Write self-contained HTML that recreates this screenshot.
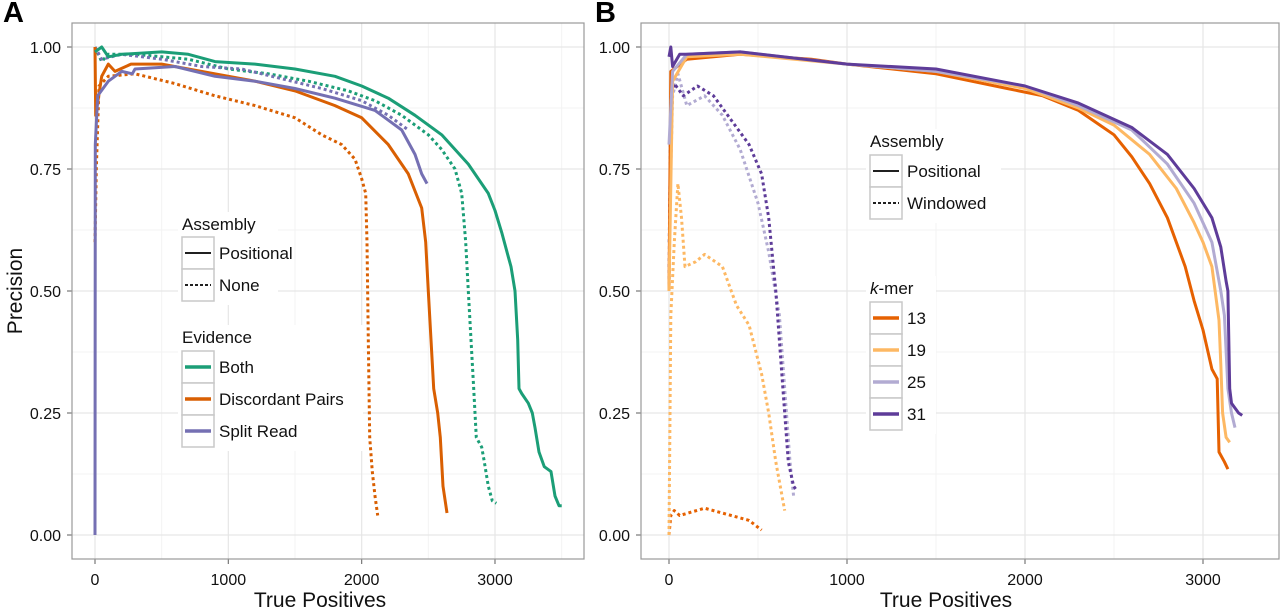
<!DOCTYPE html>
<html><head><meta charset="utf-8"><style>
html,body{margin:0;padding:0;background:#fff;}
svg{display:block;font-family:"Liberation Sans",Arial,sans-serif;}
</style></head><body>
<svg id="fig" width="1280" height="610" viewBox="0 0 1280 610" xmlns="http://www.w3.org/2000/svg"></svg>
<script>
// ---------- Data ----------
const aBothPosX=[0,50,100,200,500,700,900,1200,1500,1800,2000,2200,2400,2600,2800,2950,3000,3050,3100,3120,3150,3170,3180,3200,3250,3280,3300,3330,3370,3420,3450,3480,3500];
const aBothPosY=[0.99,1.0,0.98,0.985,0.99,0.985,0.97,0.965,0.955,0.94,0.92,0.895,0.86,0.82,0.76,0.7,0.665,0.62,0.57,0.55,0.5,0.4,0.3,0.29,0.27,0.25,0.22,0.17,0.14,0.13,0.08,0.06,0.06];
const aBothNoneX=[0,50,100,300,700,1000,1300,1600,1900,2100,2300,2500,2600,2700,2750,2780,2800,2820,2840,2860,2900,2920,2950,2980,3010];
const aBothNoneY=[1,0.97,0.985,0.985,0.975,0.955,0.945,0.93,0.91,0.89,0.86,0.82,0.79,0.75,0.7,0.6,0.5,0.4,0.3,0.2,0.18,0.15,0.1,0.07,0.065];
const aDiscPosX=[0,5,50,100,150,270,500,700,900,1200,1500,1800,2000,2200,2350,2450,2480,2500,2520,2540,2570,2590,2610,2640];
const aDiscPosY=[1.0,0.86,0.94,0.965,0.95,0.965,0.965,0.955,0.945,0.93,0.91,0.88,0.855,0.8,0.74,0.67,0.6,0.5,0.4,0.3,0.25,0.2,0.1,0.045];
const aDiscNoneX=[0,10,30,100,300,600,900,1200,1500,1700,1850,1950,2000,2030,2040,2050,2060,2080,2100,2120];
const aDiscNoneY=[0.6,0.75,0.92,0.94,0.945,0.925,0.9,0.88,0.855,0.82,0.8,0.77,0.73,0.7,0.6,0.4,0.2,0.13,0.08,0.04];
const aSplitPosX=[0,2,20,100,200,280,300,600,900,1200,1500,1800,2100,2300,2400,2450,2490];
const aSplitPosY=[0,0.8,0.9,0.93,0.95,0.945,0.955,0.96,0.94,0.93,0.915,0.895,0.87,0.83,0.78,0.74,0.72];
const aSplitNoneX=[0,50,200,500,800,1100,1400,1700,2000,2200,2350];
const aSplitNoneY=[1,0.975,0.985,0.975,0.96,0.955,0.935,0.915,0.89,0.86,0.83];

const b13PosX=[0,10,100,400,800,1000,1500,1900,2100,2300,2500,2600,2700,2800,2900,2950,3000,3050,3080,3090,3120,3140];
const b13PosY=[0.5,0.95,0.975,0.985,0.975,0.965,0.945,0.915,0.9,0.87,0.82,0.775,0.72,0.65,0.55,0.48,0.42,0.34,0.32,0.17,0.15,0.135];
const b19PosX=[0,20,100,400,1000,1500,2000,2300,2500,2700,2850,2950,3000,3050,3090,3100,3110,3130,3150];
const b19PosY=[0.5,0.93,0.98,0.985,0.965,0.95,0.915,0.875,0.84,0.78,0.71,0.64,0.6,0.55,0.44,0.35,0.25,0.2,0.19];
const b25PosX=[0,20,100,400,1000,1500,2000,2300,2600,2800,2950,3050,3100,3120,3140,3160,3180];
const b25PosY=[0.8,0.95,0.985,0.99,0.965,0.95,0.92,0.88,0.83,0.76,0.68,0.6,0.5,0.45,0.3,0.25,0.22];
const b31PosX=[0,10,20,60,100,400,1000,1500,2000,2300,2600,2800,2950,3050,3100,3130,3140,3150,3160,3200,3220];
const b31PosY=[0.98,1.0,0.96,0.985,0.985,0.99,0.965,0.955,0.92,0.885,0.835,0.78,0.71,0.65,0.59,0.52,0.5,0.3,0.27,0.25,0.245];
const b13WinX=[0,10,30,60,200,350,450,520];
const b13WinY=[0,0.04,0.05,0.04,0.055,0.04,0.03,0.01];
const b19WinX=[0,10,30,50,70,90,150,200,300,380,450,520,560,600,650];
const b19WinY=[0,0.45,0.6,0.72,0.65,0.55,0.56,0.575,0.55,0.47,0.43,0.33,0.25,0.15,0.05];
const b25WinX=[0,20,50,100,200,300,400,500,560,620,650,680,700];
const b25WinY=[0.6,0.9,0.945,0.88,0.9,0.86,0.79,0.68,0.58,0.45,0.3,0.15,0.08];
const b31WinX=[0,10,30,80,160,250,350,450,520,560,600,640,670,700,720];
const b31WinY=[0.5,0.9,0.925,0.9,0.92,0.9,0.85,0.8,0.74,0.65,0.5,0.3,0.15,0.1,0.09];

const xTicks=[0,1000,2000,3000];
const yTicks=[0,0.25,0.5,0.75,1.0];
const yTickLabels=["0.00","0.25","0.50","0.75","1.00"];

// ---------- Helpers ----------
const NS="http://www.w3.org/2000/svg";
const svg=document.getElementById('fig');
function mk(tag,attrs,parent){const e=document.createElementNS(NS,tag);for(const k in attrs)e.setAttribute(k,attrs[k]);(parent||svg).appendChild(e);return e;}

const yScale=v=>535-v*488;
const panels={
 A:{left:72,right:584,top:23,bottom:559,x0:95,k:0.13333,xmax:3500},
 B:{left:641,right:1279,top:23,bottom:559,x0:669,k:0.178,xmax:3300}
};

function drawPanel(id,p){
  const g=mk('g',{});
  
  
  const xs=v=>p.x0+v*p.k;
  for(let v=500;v<=p.xmax;v+=1000){const l=mk('line',{x1:xs(v),x2:xs(v),y1:p.top,y2:p.bottom,stroke:'#f3f3f3','stroke-width':1},g);}
  for(let v=0.125;v<1.1;v+=0.25){const l=mk('line',{x1:p.left,x2:p.right,y1:yScale(v),y2:yScale(v),stroke:'#f3f3f3','stroke-width':1},g);}
  xTicks.forEach(v=>{const l=mk('line',{x1:xs(v),x2:xs(v),y1:p.top,y2:p.bottom,stroke:'#e6e6e6','stroke-width':1.2},g);
    const t=mk('line',{x1:xs(v),x2:xs(v),y1:p.bottom,y2:p.bottom+5,stroke:'#777','stroke-width':1.2},g);
    const tx=mk('text',{x:xs(v),y:p.bottom+26,'font-size':16,'text-anchor':'middle',fill:'#111'},g);tx.textContent=String(v);});
  yTicks.forEach((v,i)=>{const l=mk('line',{x1:p.left,x2:p.right,y1:yScale(v),y2:yScale(v),stroke:'#e6e6e6','stroke-width':1.2},g);
    const t=mk('line',{x1:p.left-5,x2:p.left,y1:yScale(v),y2:yScale(v),stroke:'#777','stroke-width':1.2},g);
    const tx=mk('text',{x:p.left-11,y:yScale(v)+6,'font-size':16,'text-anchor':'end',fill:'#111'},g);tx.textContent=yTickLabels[i];});
  const b=mk('rect',{x:p.left,y:p.top,width:p.right-p.left,height:p.bottom-p.top,fill:'none',stroke:'#999','stroke-width':1.2},g);
  
  const xt=mk('text',{x:(p.left+p.right)/2+(id==='A'?-8:-14),y:607,'font-size':21,'text-anchor':'middle',fill:'#111'},g);
  xt.textContent='True Positives';
  const pl=mk('text',{x:id==='A'?3:595,y:22,'font-size':29,'font-weight':'bold',fill:'#000'},g);
  pl.textContent=id;
  return {g,xs};
}
function series(ctx,xsArr,ysArr,color,dashed,name){
  const d=xsArr.map((v,i)=>(i?'L':'M')+ctx.xs(v).toFixed(1)+','+yScale(ysArr[i]).toFixed(1)).join('');
  const e=mk('path',{d:d,fill:'none',stroke:color,'stroke-width':3,'stroke-linejoin':'round','stroke-dasharray':dashed?'3,3':'none'},ctx.g);
  
  
}
const A=drawPanel('A',panels.A);
const B=drawPanel('B',panels.B);
const yt=mk('text',{x:22,y:291,'font-size':21,'text-anchor':'middle',fill:'#111',transform:'rotate(-90 22 291)'});
yt.textContent='Precision';

const G='#1b9e77',O='#d95f02',P='#7570b3';
series(A,aDiscNoneX,aDiscNoneY,O,true,'line-discordant-none');
series(A,aBothNoneX,aBothNoneY,G,true,'line-both-none');
series(A,aSplitNoneX,aSplitNoneY,P,true,'line-split-none');
series(A,aDiscPosX,aDiscPosY,O,false,'line-discordant-positional');
series(A,aBothPosX,aBothPosY,G,false,'line-both-positional');
series(A,aSplitPosX,aSplitPosY,P,false,'line-split-positional');

const C13='#e66101',C19='#fdb863',C25='#b2abd2',C31='#5e3c99';
series(B,b13WinX,b13WinY,C13,true,'line-13-windowed');
series(B,b19WinX,b19WinY,C19,true,'line-19-windowed');
series(B,b25WinX,b25WinY,C25,true,'line-25-windowed');
series(B,b31WinX,b31WinY,C31,true,'line-31-windowed');
series(B,b13PosX,b13PosY,C13,false,'line-13-positional');
series(B,b19PosX,b19PosY,C19,false,'line-19-positional');
series(B,b25PosX,b25PosY,C25,false,'line-25-positional');
series(B,b31PosX,b31PosY,C31,false,'line-31-positional');

// ---------- Legends ----------
function legend(x,titleY,title,rowsTop,items,width,italicK){
  const g=mk('g',{});
  
  
  mk('rect',{x:x-4,y:titleY-18,width:width,height:rowsTop+items.length*32-titleY+22,fill:'#fff'},g);
  const t=mk('text',{x:x,y:titleY,'font-size':17,fill:'#111'},g);
  if(italicK){const s=mk('tspan',{'font-style':'italic'},t);s.textContent='k';const s2=mk('tspan',{},t);s2.textContent='-mer';}
  else t.textContent=title;
  
  items.forEach((it,i)=>{
    const y=rowsTop+i*32;
    const r=mk('rect',{x:x,y:y,width:32,height:32,fill:'#fff',stroke:'#c8c8c8','stroke-width':1.5},g);
    
    const l=mk('line',{x1:x+3,x2:x+29,y1:y+16,y2:y+16,stroke:it.c,'stroke-width':it.w,'stroke-dasharray':it.d?'3,2':'none'},g);
    
    const tx=mk('text',{x:x+37,y:y+22,'font-size':17,fill:'#111'},g);
    tx.textContent=it.t;
  });
}
legend(182,230,'Assembly',237,[{t:'Positional',c:'#000',w:1.8},{t:'None',c:'#000',w:1.8,d:1}],100);
legend(182,343,'Evidence',351,[{t:'Both',c:G,w:3.5},{t:'Discordant Pairs',c:O,w:3.5},{t:'Split Read',c:P,w:3.5}],185);
legend(870,147,'Assembly',155,[{t:'Positional',c:'#000',w:1.8},{t:'Windowed',c:'#000',w:1.8,d:1}],135);
legend(870,294,'k-mer',302,[{t:'13',c:C13,w:3.5},{t:'19',c:C19,w:3.5},{t:'25',c:C25,w:3.5},{t:'31',c:C31,w:3.5}],70,true);
</script>
</body></html>
